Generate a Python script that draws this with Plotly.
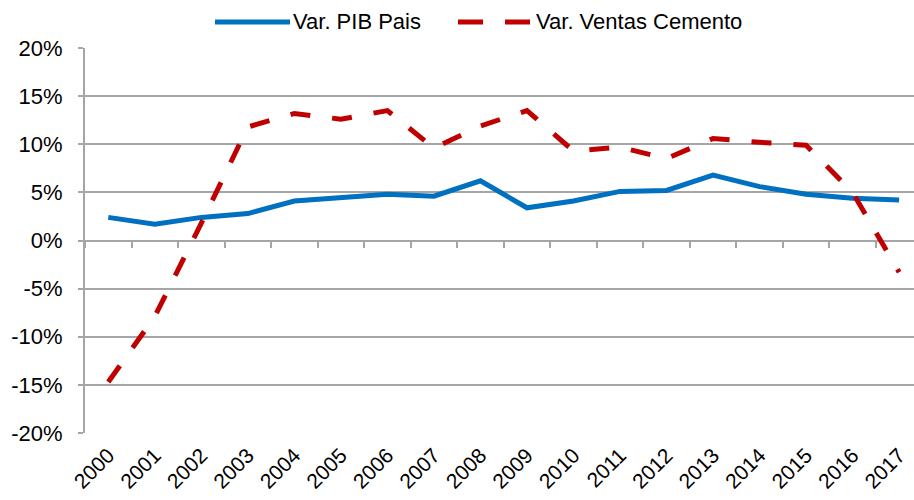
import plotly.graph_objects as go

# Annual variation (%) of national GDP vs cement sales
years = [str(y) for y in range(2000, 2018)]
pib_pais = [2.4, 1.7, 2.4, 2.8, 4.1, 4.5, 4.8, 4.6, 6.2, 3.4, 4.1, 5.1, 5.2, 6.8, 5.6, 4.8, 4.4, 4.2]
ventas_cemento = [-14.7, -7.9, 1.8, 11.8, 13.2, 12.6, 13.5, 9.6, 11.9, 13.5, 9.3, 9.7, 8.5, 10.6, 10.2, 9.9, 5.0, -3.3]

# y-axis ticks (plain hyphen for negatives)
y_tick_vals = [-20, -15, -10, -5, 0, 5, 10, 15, 20]
y_tick_text = ["-20%", "-15%", "-10%", "-5%", "0%", "5%", "10%", "15%", "20%"]

name_pib = "Var. PIB Pais"
name_cem = "Var. Ventas Cemento"

BLUE = "#0070C0"
RED = "#C00000"
GRID = "#a6a6a6"
FONT = dict(family="Liberation Sans, Arial, sans-serif", size=22, color="#000000")
XFONT = dict(family="Liberation Sans, Arial, sans-serif", size=21, color="#000000")

W, H = 914, 500
ML, MR, MT, MB = 85, 0, 48, 67

fig = go.Figure()
fig.add_trace(go.Scatter(x=years, y=pib_pais, mode="lines", name=name_pib,
                         line=dict(color=BLUE, width=5), hoverinfo="skip"))
fig.add_trace(go.Scatter(x=years, y=ventas_cemento, mode="lines", name=name_cem,
                         line=dict(color=RED, width=5, dash="20px,22px"), hoverinfo="skip"))
# helper trace so the zero-line axis carries the same categories
fig.add_trace(go.Scatter(x=years, y=[None] * len(years), xaxis="x2", showlegend=False,
                         hoverinfo="skip"))

xrange = [-0.5, 17.32]
fig.update_layout(
    width=W, height=H,
    margin=dict(l=ML, r=MR, t=MT, b=MB, autoexpand=False),
    paper_bgcolor="white", plot_bgcolor="white",
    font=FONT,
    showlegend=False,
    xaxis=dict(type="category", range=xrange, showgrid=False, zeroline=False,
               showline=False, ticks="", tickangle=-45, tickfont=XFONT,
               ticklabelstandoff=5, automargin=False),
    xaxis2=dict(type="category", range=xrange, overlaying="x", anchor="free",
                position=0.5, side="bottom", showgrid=False, zeroline=False,
                showline=False, ticks="outside", tickson="boundaries", ticklen=6,
                tickwidth=2, tickcolor=GRID, showticklabels=False, automargin=False),
    yaxis=dict(range=[-20, 20], tickmode="array", tickvals=y_tick_vals,
               ticktext=y_tick_text, showgrid=True,
               gridcolor=GRID, gridwidth=2, zeroline=False, showline=True,
               linecolor=GRID, linewidth=2, ticks="outside", ticklen=5,
               tickwidth=2, tickcolor=GRID, ticklabelstandoff=11, tickfont=FONT,
               automargin=False),
)

# Legend drawn as wide line keys above the plot
plot_w = W - ML - MR
plot_h = H - MT - MB


def px_x(p):
    return (p - ML) / plot_w


def px_y(p):
    return (H - MB - p) / plot_h


ly = px_y(22)
fig.add_shape(type="line", xref="paper", yref="paper", x0=px_x(215), x1=px_x(290),
              y0=ly, y1=ly, line=dict(color=BLUE, width=5))
fig.add_shape(type="line", xref="paper", yref="paper", x0=px_x(458), x1=px_x(530),
              y0=ly, y1=ly, line=dict(color=RED, width=5, dash="25px,22px"))
fig.add_annotation(text=name_pib, xref="paper", yref="paper", x=px_x(291), y=ly,
                   xanchor="left", yanchor="middle", showarrow=False, font=FONT)
fig.add_annotation(text=name_cem, xref="paper", yref="paper", x=px_x(534), y=ly,
                   xanchor="left", yanchor="middle", showarrow=False, font=FONT)

fig.write_html("out.html")
